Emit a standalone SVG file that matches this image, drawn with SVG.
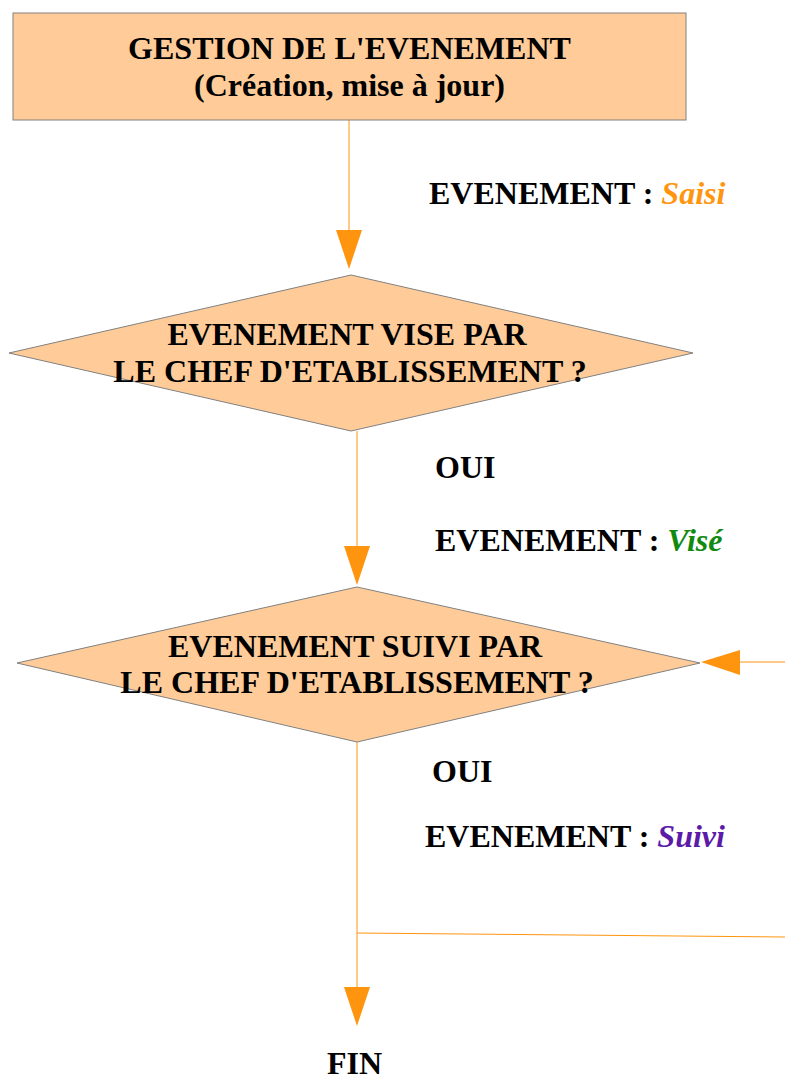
<svg xmlns="http://www.w3.org/2000/svg" width="785" height="1079" viewBox="0 0 785 1079">
<defs>
<style>
.shape{fill:#ffcc99;stroke:#808080;stroke-width:1}
.t{font-family:"Liberation Serif","Times New Roman",serif;font-weight:bold;font-size:32px;fill:#000}
.c{text-anchor:middle}
.it{font-style:italic}
.ln{fill:none;stroke:#ff950e;stroke-width:1}
.ah{fill:#ff950e;stroke:none}
</style>
</defs>
<rect width="785" height="1079" fill="#fff"/>
<g id="connectors">
<line class="ln" x1="349" y1="120" x2="349" y2="232"/>
<polygon class="ah" points="336,230 362,230 349,269"/>
<line class="ln" x1="357" y1="431" x2="357" y2="548"/>
<polygon class="ah" points="344,546 370,546 357,585"/>
<line class="ln" x1="357" y1="742" x2="357" y2="990"/>
<polygon class="ah" points="344,987 370,987 357,1026"/>
<line class="ln" x1="357" y1="933" x2="785" y2="937"/>
<line class="ln" x1="738" y1="662" x2="785" y2="662"/>
<polygon class="ah" points="740,650 740,675 701,662"/>
</g>
<g id="node-gestion">
<rect class="shape" x="13" y="13" width="673" height="107"/>
<text class="t c" x="349.5" y="59">GESTION DE L'EVENEMENT</text>
<text class="t c" x="349.5" y="96">(Création, mise à jour)</text>
</g>
<g id="label-saisi">
<text class="t" x="429" y="204">EVENEMENT : <tspan class="it" fill="#ff950e">Saisi</tspan></text>
</g>
<g id="node-vise">
<polygon class="shape" points="351,275 693,353 351,431 9,353"/>
<text class="t c" x="347" y="345">EVENEMENT VISE PAR</text>
<text class="t c" x="350" y="382">LE CHEF D'ETABLISSEMENT ?</text>
</g>
<g id="label-vise">
<text class="t" x="435" y="478">OUI</text>
<text class="t" x="435" y="551">EVENEMENT : <tspan class="it" fill="#108a10">Visé</tspan></text>
</g>
<g id="node-suivi">
<polygon class="shape" points="357,587 700,663 357,742 17,663"/>
<text class="t c" x="355" y="657">EVENEMENT SUIVI PAR</text>
<text class="t c" x="357" y="693">LE CHEF D'ETABLISSEMENT ?</text>
</g>
<g id="label-suivi">
<text class="t" x="432" y="782">OUI</text>
<text class="t" x="425" y="847">EVENEMENT : <tspan class="it" fill="#5b1aa8">Suivi</tspan></text>
</g>
<g id="node-fin">
<text class="t" x="327" y="1074">FIN</text>
</g>
</svg>
